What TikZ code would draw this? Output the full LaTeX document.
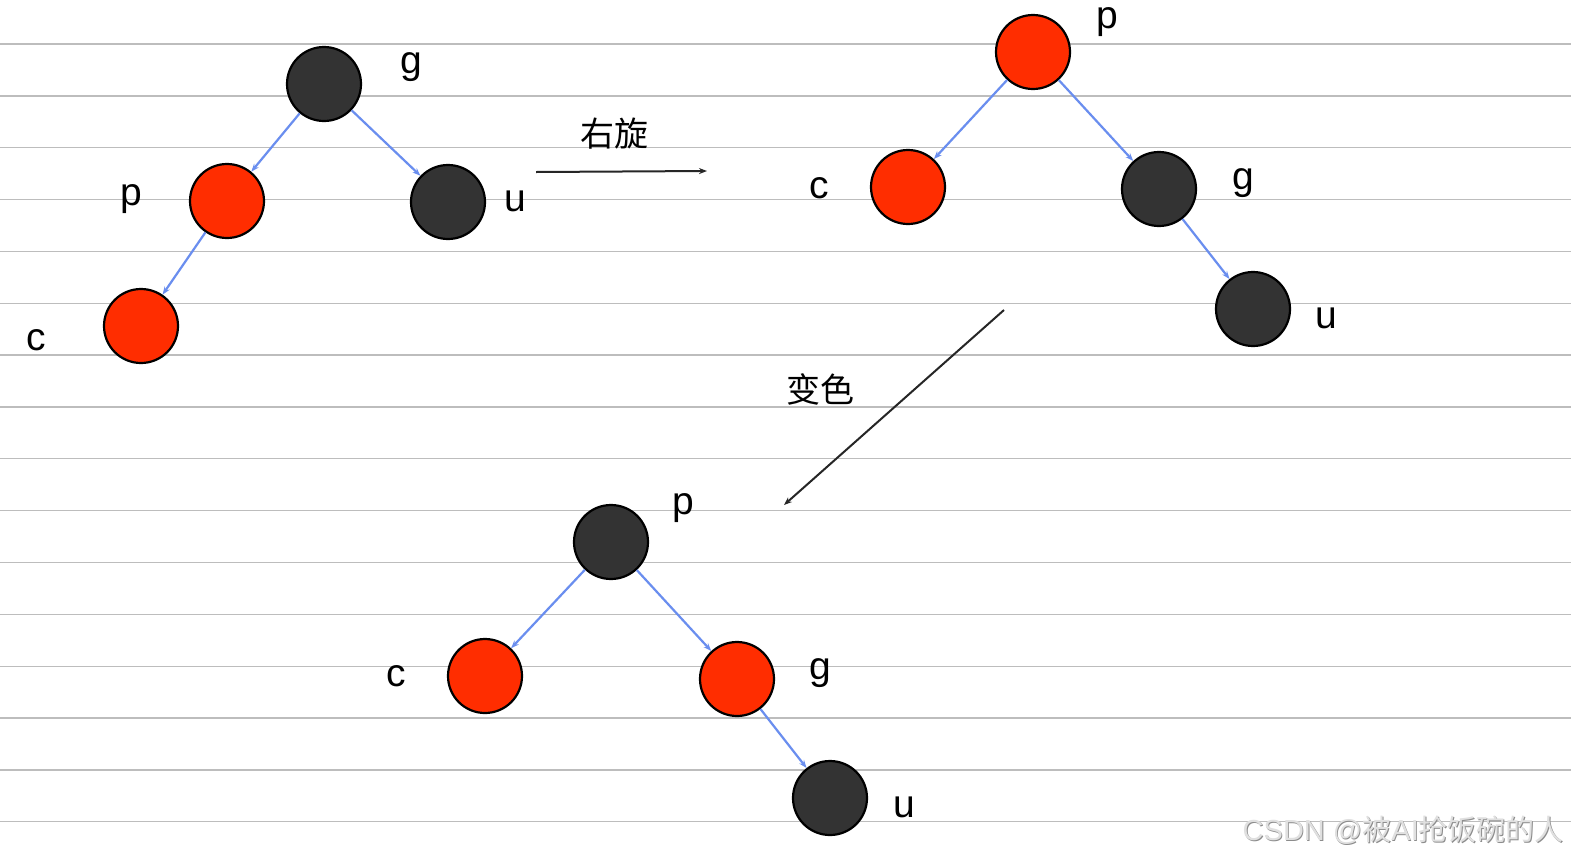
\documentclass[tikz,border=0pt]{standalone}
\usepackage{fontspec}
\setmainfont{Noto Sans CJK SC}
\newfontfamily\latinfont{Liberation Sans}
\usetikzlibrary{arrows.meta}
\definecolor{nodered}{HTML}{FF2D00}
\definecolor{nodedark}{HTML}{333333}
\definecolor{edgeblue}{HTML}{6A8EEF}
\definecolor{ruleline}{HTML}{BDBDBD}
\begin{document}
\begin{tikzpicture}[x=1pt,y=-1pt,
  treenode/.style={circle,draw=black,line width=2.2pt,minimum size=74pt,inner sep=0pt},
  rednode/.style={treenode,fill=nodered},
  darknode/.style={treenode,fill=nodedark},
  edge/.style={draw=edgeblue,line width=2.2pt,-{Stealth[length=8pt,width=6pt]}},
  bigarrow/.style={draw=black!85,line width=2pt,-{Stealth[length=8pt,width=6pt]}},
  lbl/.style={font=\latinfont\fontsize{39}{42}\selectfont,inner sep=0pt},
  cjk/.style={font=\fontsize{34}{38}\selectfont,inner sep=0pt},
  rule/.style={draw=ruleline,line width=1.3pt}]
\fill[white] (0,0) rectangle (1571,860);
\useasboundingbox (0,0) rectangle (1571,860);
\foreach \k in {0,...,15} {
  \draw[rule] (0,{44+51.85*\k}) -- (1571,{44+51.85*\k});
}
% tree 1
\node[darknode] (g1) at (324,84) {};
\node[rednode]  (p1) at (227,201) {};
\node[darknode] (u1) at (448,202) {};
\node[rednode]  (c1) at (141,326) {};
\draw[edge] (g1) -- (p1);
\draw[edge] (g1) -- (u1);
\draw[edge] (p1) -- (c1);
\node[lbl] (lg1) at (411,67) {g};
\node[lbl] (lp1) at (131,199) {p};
\node[lbl] (lu1) at (515,201) {u};
\node[lbl] (lc1) at (36,340) {c};
% tree 2
\node[rednode]  (p2) at (1033,52) {};
\node[rednode]  (c2) at (908,187) {};
\node[darknode] (g2) at (1159,189) {};
\node[darknode] (u2) at (1253,309) {};
\draw[edge] (p2) -- (c2);
\draw[edge] (p2) -- (g2);
\draw[edge] (g2) -- (u2);
\node[lbl] (lp2) at (1107,22) {p};
\node[lbl] (lc2) at (819,188) {c};
\node[lbl] (lg2) at (1243,183) {g};
\node[lbl] (lu2) at (1326,318) {u};
% tree 3
\node[darknode] (p3) at (611,542) {};
\node[rednode]  (c3) at (485,676) {};
\node[rednode]  (g3) at (737,679) {};
\node[darknode] (u3) at (830,798) {};
\draw[edge] (p3) -- (c3);
\draw[edge] (p3) -- (g3);
\draw[edge] (g3) -- (u3);
\node[lbl] (lp3) at (683,508) {p};
\node[lbl] (lc3) at (396,676) {c};
\node[lbl] (lg3) at (820,673) {g};
\node[lbl] (lu3) at (904,807) {u};
% transitions
\coordinate (r1) at (536,172);
\coordinate (r2) at (707,171);
\draw[bigarrow] (r1) -- (r2);
\node[cjk] (rot) at (614,134) {右旋};
\coordinate (s1) at (1004,310);
\coordinate (s2) at (784,505);
\draw[bigarrow] (s1) -- (s2);
\node[cjk] (col) at (820,389) {变色};
% watermark
\node[font=\fontsize{29}{32}\selectfont,text=black!45,inner sep=0pt,anchor=east] (wms) at (1564.8,830.8) {\latinfont CSDN @\normalfont 被\latinfont AI\normalfont 抢饭碗的人};
\node[font=\fontsize{29}{32}\selectfont,text=black!12,inner sep=0pt,anchor=east] (wm) at (1564,830) {\latinfont CSDN @\normalfont 被\latinfont AI\normalfont 抢饭碗的人};
\end{tikzpicture}
\end{document}
